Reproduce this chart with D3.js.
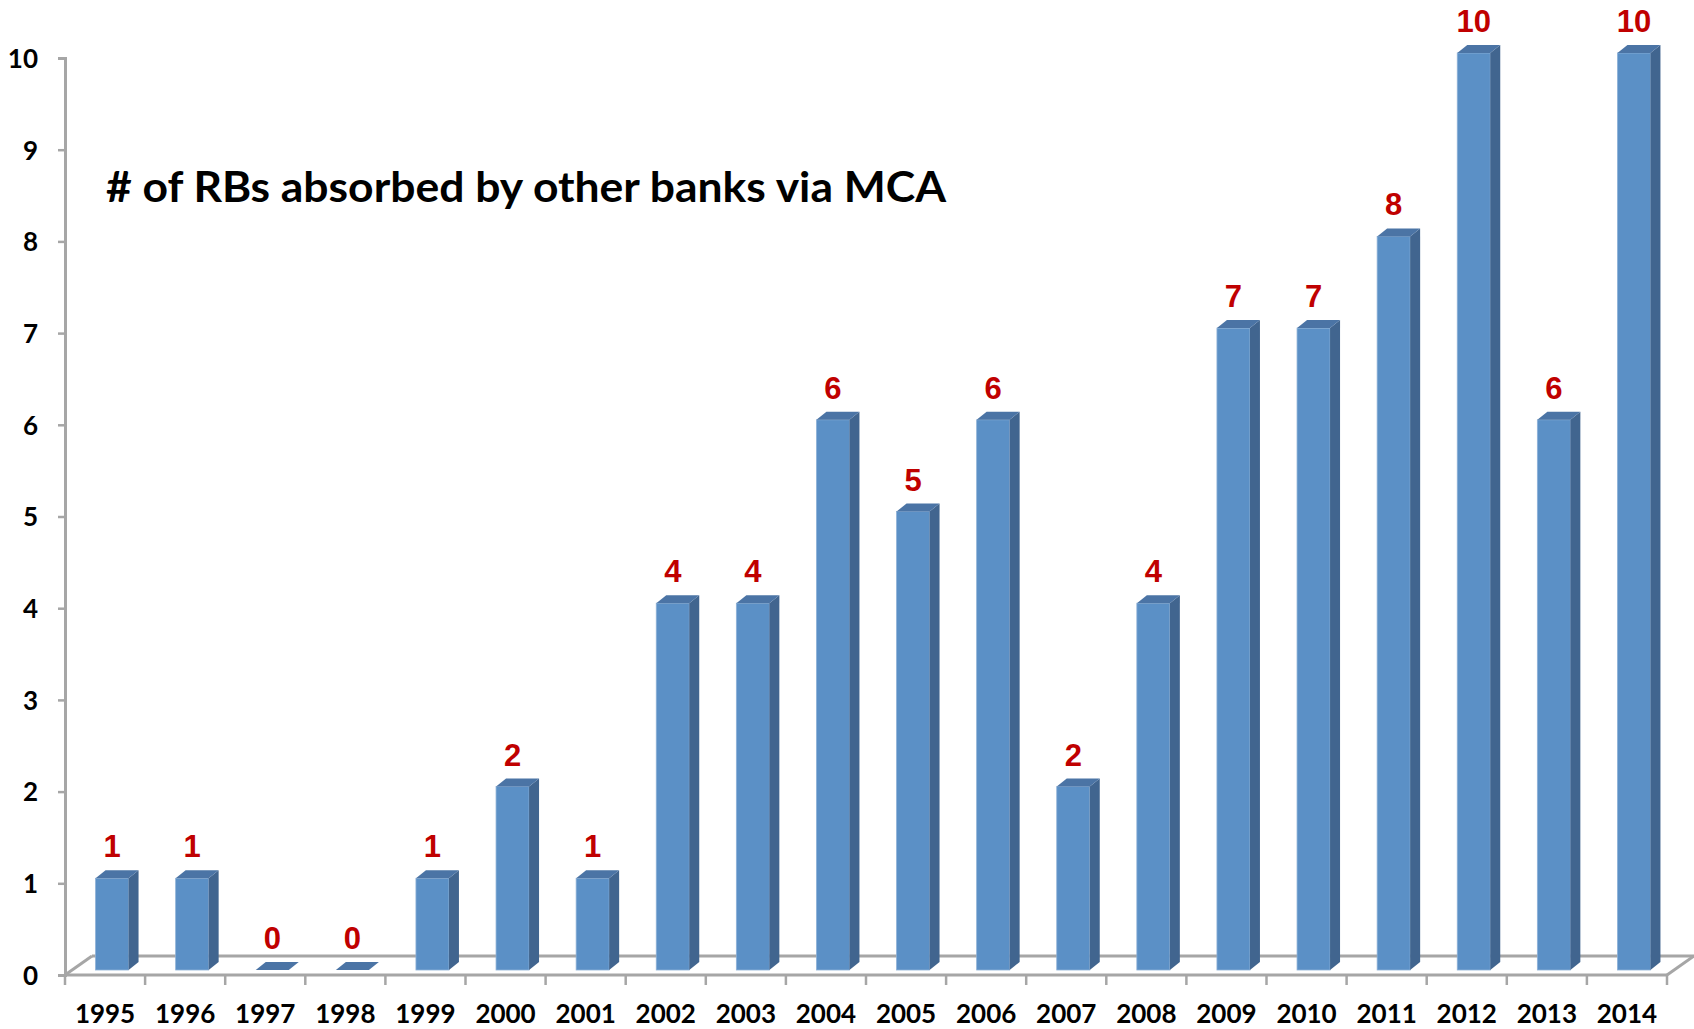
<!DOCTYPE html>
<html>
<head>
<meta charset="utf-8">
<script src="https://cdn.jsdelivr.net/npm/d3@7"></script>
<style>
  body { margin: 0; background: #fff; }
</style>
</head>
<body>
<div id="chart"></div>
<script>
// data
var years = ["1995", "1996", "1997", "1998", "1999", "2000", "2001", "2002", "2003", "2004",
  "2005", "2006", "2007", "2008", "2009", "2010", "2011", "2012", "2013", "2014"];
var counts = [1, 1, 0, 0, 1, 2, 1, 4, 4, 6, 5, 6, 2, 4, 7, 7, 8, 10, 6, 10];
var yTicks = [0, 1, 2, 3, 4, 5, 6, 7, 8, 9, 10];
var title = "# of RBs absorbed by other banks via MCA";

var width = 1694, height = 1029;
var x0 = 65, x1 = 1667, yBase = 975, yTop = 58;
// 3d floor depth and bar depth
var floorDx = 27, floorDy = -19;
var barDx = 10, barDy = -8;
var barOffX = 7, barOffY = -5;

var svg = d3.select("#chart").append("svg")
  .attr("width", width)
  .attr("height", height);

var x = d3.scaleBand().domain(years).range([x0, x1]);
var y = d3.scaleLinear().domain([0, 10]).range([yBase, yTop]);
var barW = 33;

var axisColor = "#a6a6a6";
var labelFont = "Lato, 'Open Sans', sans-serif";

// floor
var floor = svg.append("g").attr("stroke", axisColor).attr("stroke-width", 3).attr("fill", "none");
floor.append("line").attr("x1", x0 + floorDx).attr("y1", yBase + floorDy).attr("x2", x1 + floorDx).attr("y2", yBase + floorDy);
floor.append("line").attr("x1", x0).attr("y1", yBase).attr("x2", x0 + floorDx).attr("y2", yBase + floorDy);
floor.append("line").attr("x1", x1).attr("y1", yBase).attr("x2", x1 + floorDx).attr("y2", yBase + floorDy);

// y axis
var yAxis = svg.append("g").attr("transform", "translate(" + x0 + ",0)")
  .call(d3.axisLeft(y).tickValues(yTicks).tickSize(7).tickPadding(20).tickFormat(d3.format("d")));
yAxis.select(".domain").attr("stroke", axisColor).attr("stroke-width", 3);
yAxis.selectAll(".tick line").attr("stroke", axisColor).attr("stroke-width", 2.5);
yAxis.selectAll(".tick text")
  .attr("fill", "#000")
  .style("font-family", labelFont)
  .style("font-weight", "bold")
  .style("font-size", "26px")
  .attr("dy", "0.36em");

// front floor edge + category ticks
svg.append("line").attr("x1", x0).attr("y1", yBase).attr("x2", x1).attr("y2", yBase)
  .attr("stroke", axisColor).attr("stroke-width", 3);
var bounds = years.map(function (d) { return x(d); }).concat([x1]);
svg.append("g").selectAll("line").data(bounds).enter().append("line")
  .attr("x1", function (d) { return d; }).attr("x2", function (d) { return d; })
  .attr("y1", yBase).attr("y2", yBase + 10)
  .attr("stroke", axisColor).attr("stroke-width", 2.5);

// x labels
svg.append("g").selectAll("text").data(years).enter().append("text")
  .attr("x", function (d) { return x(d) + x.bandwidth() / 2; })
  .attr("y", 1023)
  .attr("text-anchor", "middle")
  .style("font-family", labelFont)
  .style("font-weight", "bold")
  .style("font-size", "26px")
  .text(function (d) { return d; });

// bars
var data = years.map(function (d, i) { return { year: d, value: counts[i] }; });
var bars = svg.append("g").selectAll("g").data(data).enter().append("g");

function fx(d) { return x(d.year) + x.bandwidth() / 2 + barOffX - barW / 2; }
function fyTop(d) { return y(d.value) + barOffY; }
var fyBot = yBase + barOffY;

// front face
bars.append("rect")
  .attr("x", fx)
  .attr("y", fyTop)
  .attr("width", barW)
  .attr("height", function (d) { return fyBot - fyTop(d); })
  .attr("fill", "#5b90c6")
  .attr("stroke", "#8db1d8")
  .attr("stroke-width", 0.8);
// side face
bars.append("path")
  .attr("d", function (d) {
    var a = fx(d) + barW, t = fyTop(d);
    return "M" + a + "," + t + "L" + (a + barDx) + "," + (t + barDy) +
      "L" + (a + barDx) + "," + (fyBot + barDy) + "L" + a + "," + fyBot + "Z";
  })
  .attr("fill", "#41658f");
// top face
bars.append("path")
  .attr("d", function (d) {
    var a = fx(d), t = fyTop(d);
    return "M" + a + "," + t + "L" + (a + barDx) + "," + (t + barDy) +
      "L" + (a + barW + barDx) + "," + (t + barDy) + "L" + (a + barW) + "," + t + "Z";
  })
  .attr("fill", "#4b74a5");

// value labels
bars.append("text")
  .attr("x", function (d) { return fx(d) + barW / 2; })
  .attr("y", function (d) { return fyTop(d) - 21; })
  .attr("text-anchor", "middle")
  .attr("fill", "#c00000")
  .style("font-family", "'Liberation Sans', Arial, sans-serif")
  .style("font-weight", "bold")
  .style("font-size", "31px")
  .text(function (d) { return d.value; });

// title
svg.append("text")
  .attr("x", 106)
  .attr("y", 202)
  .attr("textLength", 840)
  .attr("lengthAdjust", "spacingAndGlyphs")
  .style("font-family", labelFont)
  .style("font-weight", "bold")
  .style("font-size", "42px")
  .text(title);
</script>
</body>
</html>
